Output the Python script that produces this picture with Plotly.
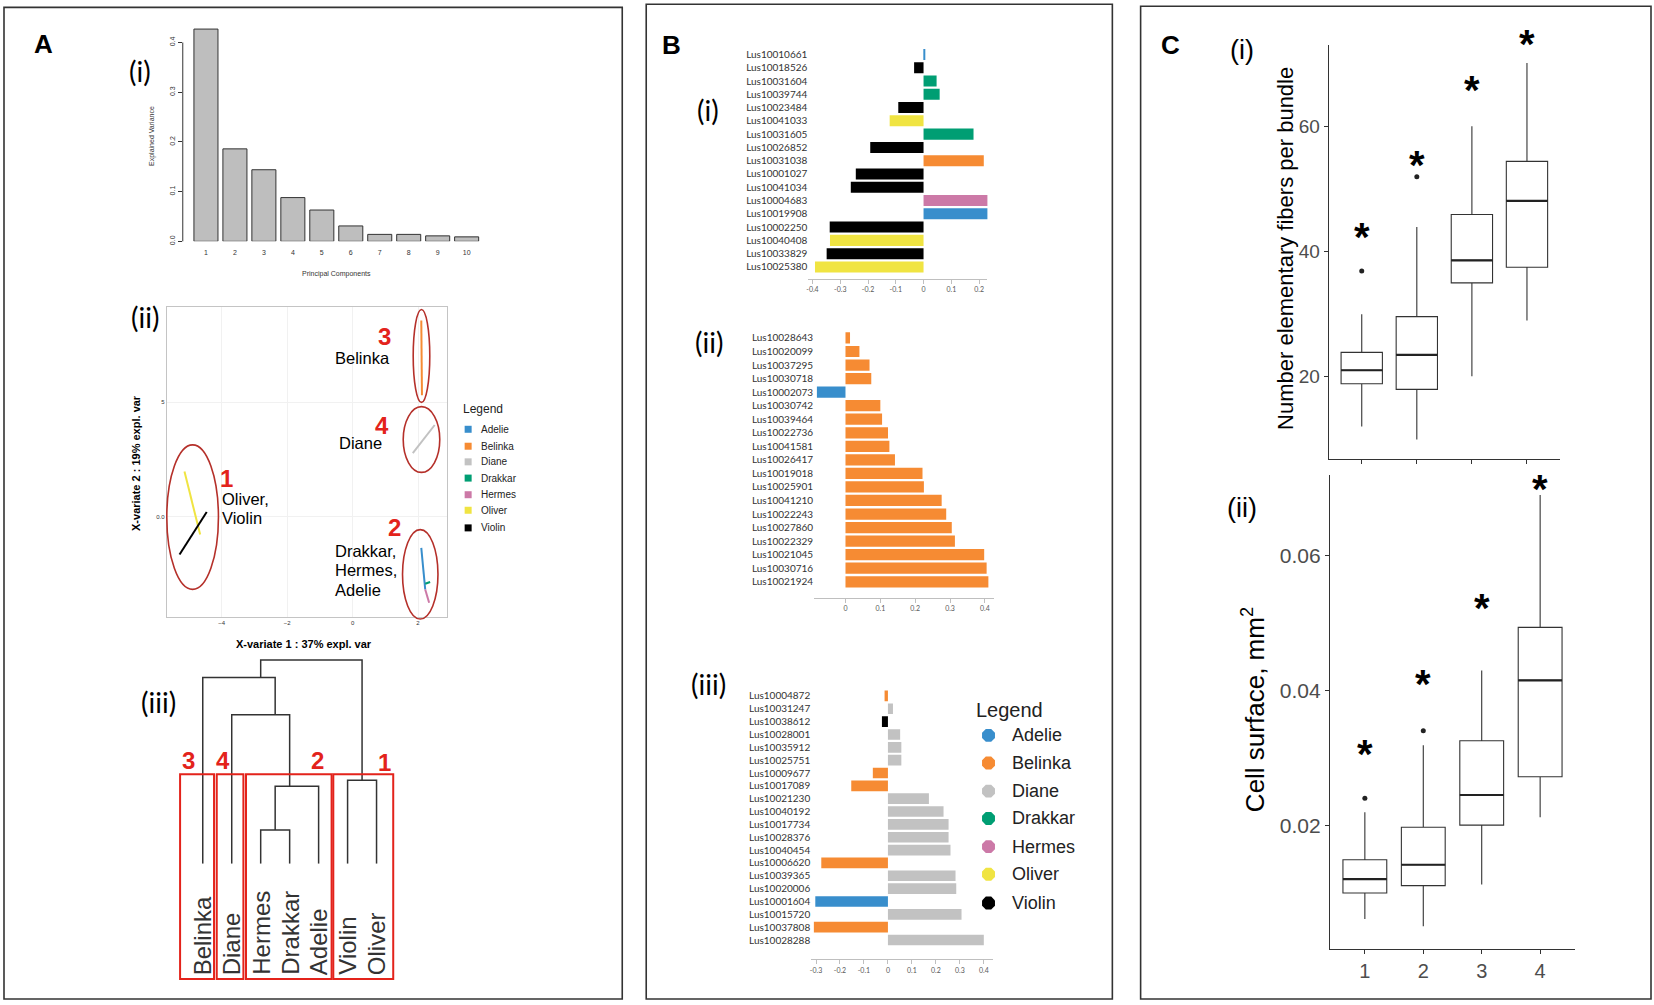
import plotly.graph_objects as go

W, H = 1654, 1005


def fx(px):
    return px / W


def fy(py):
    return 1 - py / H


ARIAL = "Liberation Sans, Arial, sans-serif"
CALIB = "Lato, Carlito, Calibri, sans-serif"

# ---------------- data ----------------
pc_labels = ["1", "2", "3", "4", "5", "6", "7", "8", "9", "10"]
pc_explained = [0.427, 0.186, 0.144, 0.088, 0.063, 0.031, 0.014, 0.014, 0.011, 0.009]
pc_ticks = [0.0, 0.1, 0.2, 0.3, 0.4]
pc_ticktext = ["0.0", "0.1", "0.2", "0.3", "0.4"]

cultivars = ["Adelie", "Belinka", "Diane", "Drakkar", "Hermes", "Oliver", "Violin"]
cultivar_colors = ["#388ECC", "#F68B33", "#C2C2C2", "#009E73", "#CC79A7", "#F0E442", "#000000"]
COL = dict(zip(cultivars, cultivar_colors))

traj_cultivar = ["Oliver", "Violin", "Belinka", "Diane", "Adelie", "Hermes", "Drakkar"]
traj_x = [[-5.14, -4.66], [-5.29, -4.46], [2.10, 2.12], [1.84, 2.51], [2.10, 2.22], [2.22, 2.34], [2.22, 2.37]]
traj_y = [[1.98, -0.77], [-1.64, 0.21], [8.57, 5.31], [2.78, 4.01], [-1.35, -3.17], [-3.17, -3.75], [-2.92, -2.84]]
xv1_ticks = [-4, -2, 0, 2]
xv2_ticks = [0, 5]
xv2_ticktext = ["0.0", "5"]

dendro_leaves = ["Belinka", "Diane", "Hermes", "Drakkar", "Adelie", "Violin", "Oliver"]
dendro_left = ["Hermes", "m0", "Violin", "Diane", "Belinka", "m4"]
dendro_right = ["Drakkar", "Adelie", "Oliver", "m1", "m3", "m2"]
dendro_height = [0.34, 0.78, 0.84, 1.50, 1.875, 2.05]
cluster_numbers = ["3", "4", "2", "1"]

b1_genes = ["Lus10010661", "Lus10018526", "Lus10031604", "Lus10039744", "Lus10023484", "Lus10041033",
            "Lus10031605", "Lus10026852", "Lus10031038", "Lus10001027", "Lus10041034", "Lus10004683",
            "Lus10019908", "Lus10002250", "Lus10040408", "Lus10033829", "Lus10025380"]
b1_loadings = [0.004, -0.034, 0.047, 0.058, -0.091, -0.122, 0.180, -0.192, 0.217, -0.244, -0.262,
               0.255, 0.255, -0.338, -0.337, -0.349, -0.391]
b1_cultivar = ["Adelie", "Violin", "Drakkar", "Drakkar", "Violin", "Oliver", "Drakkar", "Violin", "Belinka",
               "Violin", "Violin", "Hermes", "Adelie", "Violin", "Oliver", "Violin", "Oliver"]
b1_ticks = [-0.4, -0.3, -0.2, -0.1, 0, 0.1, 0.2]
b1_ticktext = ["-0.4", "-0.3", "-0.2", "-0.1", "0", "0.1", "0.2"]

b2_genes = ["Lus10028643", "Lus10020099", "Lus10037295", "Lus10030718", "Lus10002073", "Lus10030742",
            "Lus10039464", "Lus10022736", "Lus10041581", "Lus10026417", "Lus10019018", "Lus10025901",
            "Lus10041210", "Lus10022243", "Lus10027860", "Lus10022329", "Lus10021045", "Lus10030716",
            "Lus10021924"]
b2_loadings = [0.013, 0.040, 0.069, 0.074, -0.082, 0.100, 0.105, 0.122, 0.126, 0.142, 0.221, 0.225,
               0.276, 0.289, 0.305, 0.314, 0.398, 0.405, 0.410]
b2_cultivar = ["Belinka"] * 4 + ["Adelie"] + ["Belinka"] * 14
b2_ticks = [0, 0.1, 0.2, 0.3, 0.4]
b2_ticktext = ["0", "0.1", "0.2", "0.3", "0.4"]

b3_genes = ["Lus10004872", "Lus10031247", "Lus10038612", "Lus10028001", "Lus10035912", "Lus10025751",
            "Lus10009677", "Lus10017089", "Lus10021230", "Lus10040192", "Lus10017734", "Lus10028376",
            "Lus10040454", "Lus10006620", "Lus10039365", "Lus10020006", "Lus10001604", "Lus10015720",
            "Lus10037808", "Lus10028288"]
b3_loadings = [-0.014, 0.021, -0.025, 0.051, 0.056, 0.056, -0.063, -0.153, 0.171, 0.232, 0.253, 0.253,
               0.261, -0.278, 0.282, 0.285, -0.303, 0.307, -0.309, 0.400]
b3_cultivar = ["Belinka", "Diane", "Violin", "Diane", "Diane", "Diane", "Belinka", "Belinka", "Diane",
               "Diane", "Diane", "Diane", "Diane", "Belinka", "Diane", "Diane", "Adelie", "Diane",
               "Belinka", "Diane"]
b3_ticks = [-0.3, -0.2, -0.1, 0, 0.1, 0.2, 0.3, 0.4]
b3_ticktext = ["-0.3", "-0.2", "-0.1", "0", "0.1", "0.2", "0.3", "0.4"]

groups = [1, 2, 3, 4]
group_labels = ["1", "2", "3", "4"]
fib_lower = [12.05, 10.0, 20.1, 29.0]
fib_q1 = [18.9, 18.0, 35.0, 37.5]
fib_median = [21.05, 23.5, 38.6, 48.1]
fib_q3 = [23.9, 29.6, 45.9, 54.4]
fib_upper = [30.0, 43.9, 60.0, 70.1]
fib_outlier_group = [1, 2]
fib_outlier_value = [36.9, 51.95]
fib_star_y = [43.8, 55.2, 67.3, 74.6]
fib_ticks = [20, 40, 60]

cell_lower = [0.00621, 0.00514, 0.0113, 0.02127]
cell_q1 = [0.01005, 0.01114, 0.0201, 0.02728]
cell_median = [0.01212, 0.01424, 0.02457, 0.04155]
cell_q3 = [0.01498, 0.0198, 0.0326, 0.0494]
cell_upper = [0.0220, 0.03195, 0.0430, 0.0690]
cell_outlier_group = [1, 2]
cell_outlier_value = [0.0241, 0.0341]
cell_star_y = [0.0320, 0.0423, 0.0536, 0.0712]
cell_ticks = [0.02, 0.04, 0.06]
cell_ticktext = ["0.02", "0.04", "0.06"]

# ---------------- figure ----------------
fig = go.Figure()
ann = []
shapes = []


def label(x, y, s, size, color="#000000", bold=False, family=ARIAL, xanchor="center",
          yanchor="middle", angle=0):
    ann.append(dict(x=fx(x), y=fy(y), xref="paper", yref="paper",
                    text=f"<b>{s}</b>" if bold else s, showarrow=False,
                    font=dict(size=size, color=color, family=family),
                    xanchor=xanchor, yanchor=yanchor, textangle=angle))


def rect(x0, y0, x1, y1, color, width):
    shapes.append(dict(type="rect", xref="paper", yref="paper", x0=fx(x0), x1=fx(x1),
                       y0=fy(y0), y1=fy(y1), line=dict(color=color, width=width)))


def ellipse(x0, y0, x1, y1, color, width):
    shapes.append(dict(type="circle", xref="paper", yref="paper", x0=fx(x0), x1=fx(x1),
                       y0=fy(y0), y1=fy(y1), line=dict(color=color, width=width)))


def to_paper(v, dom, rng):
    return dom[0] + (v - rng[0]) / (rng[1] - rng[0]) * (dom[1] - dom[0])


# outer panel frames
rect(2, 7.4, 621, 1003, "#333333", 1.6)
rect(645, 4.2, 1111.7, 1003, "#333333", 1.6)
rect(1140, 6.3, 1651, 1003, "#333333", 1.6)
label(42, 44, "A", 26, bold=True)
label(670, 45, "B", 26, bold=True)
label(1170, 45, "C", 26, bold=True)

# ---- A(i) scree plot ----
a1_xdom = [fx(181.0), fx(482.6)]
a1_ydom = [fy(242.3), fy(22.7)]
a1_range = [0, 0.44]
fig.add_trace(go.Bar(x=list(range(1, len(pc_explained) + 1)), y=pc_explained, width=0.83,
                     marker=dict(color="#BEBEBE", line=dict(color="#333333", width=1)),
                     xaxis="x", yaxis="y", showlegend=False))
shapes.append(dict(type="line", xref="paper", yref="paper", x0=a1_xdom[0], x1=a1_xdom[0],
                   y0=to_paper(pc_ticks[0], a1_ydom, a1_range),
                   y1=to_paper(pc_ticks[-1], a1_ydom, a1_range),
                   line=dict(color="#333333", width=1)))
label(138.3, 71.7, "(i)", 28, family=CALIB)
label(335, 275, "Principal Components", 7, color="#333333")
label(150, 136.7, "Explained Variance", 7, color="#333333", angle=-90)

# ---- A(ii) sPLS-DA sample plot ----
for c, xs, ys in zip(traj_cultivar, traj_x, traj_y):
    fig.add_trace(go.Scatter(x=xs, y=ys, mode="lines", line=dict(color=COL[c], width=2),
                             xaxis="x2", yaxis="y2", showlegend=False))
label(143.3, 318.3, "(ii)", 28, family=CALIB)
label(302, 647, "X-variate 1 : 37% expl. var", 11, bold=True)
label(134, 465, "X-variate 2 : 19% expl. var", 11, bold=True, angle=-90)
ELL = "#B5302A"
ellipse(165, 446.7, 216.7, 591.7, ELL, 1.6)
ellipse(411.7, 310.7, 428.3, 404, ELL, 1.6)
ellipse(401.7, 408.3, 438.3, 474.3, ELL, 1.6)
ellipse(401, 531.7, 436.5, 621.5, ELL, 1.6)
RED = "#E3231B"
label(225, 480.5, "1", 24, color=RED, bold=True)
label(382.7, 338.3, "3", 24, color=RED, bold=True)
label(380.7, 426.7, "4", 24, color=RED, bold=True)
label(393.3, 530, "2", 24, color=RED, bold=True)
label(361.2, 359.3, "Belinka", 16.5)
label(358.8, 445, "Diane", 16.5)
label(218.3, 501, "Oliver,", 16.5, xanchor="left")
label(218.3, 520.3, "Violin", 16.5, xanchor="left")
label(331.7, 553.3, "Drakkar,", 16.5, xanchor="left")
label(331.7, 572.7, "Hermes,", 16.5, xanchor="left")
label(331.7, 592.3, "Adelie", 16.5, xanchor="left")
# legend (A)
label(459.3, 411, "Legend", 12, color="#222222", xanchor="left")
a_leg_y = [431, 448, 463.7, 480, 496.7, 512.3, 530]
fig.add_trace(go.Scatter(x=[466.7] * len(cultivars), y=a_leg_y, mode="markers",
                         marker=dict(symbol="square", size=7, color=cultivar_colors),
                         xaxis="x9", yaxis="y9", showlegend=False))
for c, yy in zip(cultivars, a_leg_y):
    label(478, yy, c, 10, color="#222222", xanchor="left")

# ---- A(iii) dendrogram ----
node = {leaf: (i + 1, 0.0, i + 1, i + 1) for i, leaf in enumerate(dendro_leaves)}
dx, dy = [], []
for k, (a, b, h) in enumerate(zip(dendro_left, dendro_right, dendro_height)):
    xa, ha, la, ra = node[a]
    xb, hb, lb, rb = node[b]
    dx += [xa, xa, xb, xb, None]
    dy += [ha, h, h, hb, None]
    lo, hi = min(la, lb), max(ra, rb)
    node[f"m{k}"] = ((lo + hi) / 2, h, lo, hi)
fig.add_trace(go.Scatter(x=dx, y=dy, mode="lines", line=dict(color="#333333", width=1.5),
                         xaxis="x3", yaxis="y3", showlegend=False))
for i, leaf in enumerate(dendro_leaves):
    ann.append(dict(x=i + 1, y=fy(981), xref="x3", yref="paper", text=leaf, showarrow=False,
                    textangle=-90, xanchor="center", yanchor="bottom",
                    font=dict(size=24, color="#333333", family=ARIAL)))
label(156.7, 705, "(iii)", 28, family=CALIB)
box_ext = [(178.3, 212.3), (215, 241.7), (244.3, 330), (331.7, 391.7)]
num_pos = [(186.7, 764), (221.7, 764), (315.7, 764), (382.7, 766)]
for (x0, x1), (nx, ny), num in zip(box_ext, num_pos, cluster_numbers):
    rect(x0, 777.3, x1, 983, RED, 2)
    label(nx, ny, num, 24, color=RED, bold=True)

# ---- B loadings ----
for genes, vals, cults, ax in [(b1_genes, b1_loadings, b1_cultivar, "4"),
                               (b2_genes, b2_loadings, b2_cultivar, "5"),
                               (b3_genes, b3_loadings, b3_cultivar, "6")]:
    fig.add_trace(go.Bar(y=genes, x=vals, orientation="h",
                         marker=dict(color=[COL[c] for c in cults], line=dict(width=0)),
                         xaxis="x" + ax, yaxis="y" + ax, showlegend=False))
label(706.7, 110, "(i)", 28, family=CALIB)
label(708.3, 343.3, "(ii)", 28, family=CALIB)
label(707.3, 686.7, "(iii)", 28, family=CALIB)
# legend (B)
label(973.3, 713.3, "Legend", 20, color="#222222", xanchor="left")
b_leg_y = [738.3, 766, 794.3, 821.7, 850, 877.7, 906.7]
fig.add_trace(go.Scatter(x=[987.7] * len(cultivars), y=b_leg_y, mode="markers",
                         marker=dict(symbol="octagon", size=14, color=cultivar_colors),
                         xaxis="x9", yaxis="y9", showlegend=False))
for c, yy in zip(cultivars, b_leg_y):
    label(1009, yy, c, 18, color="#222222", xanchor="left")

# ---- C boxplots ----
c1_xdom, c1_ydom, c1_yrange = [fx(1328.3), fx(1559.9)], [fy(460.7), fy(45)], [6.9, 73]
c2_xdom, c2_ydom, c2_yrange = [fx(1329.4), fx(1575.1)], [fy(952.5), fy(476.7)], [0.0018, 0.072]
c_xrange = [0.4, 4.6]
for ax, lo, q1, med, q3, up, og, ov in [
        ("7", fib_lower, fib_q1, fib_median, fib_q3, fib_upper, fib_outlier_group, fib_outlier_value),
        ("8", cell_lower, cell_q1, cell_median, cell_q3, cell_upper, cell_outlier_group, cell_outlier_value)]:
    fig.add_trace(go.Box(x=groups, q1=q1, median=med, q3=q3, lowerfence=lo, upperfence=up,
                         width=0.75, whiskerwidth=0, boxpoints=False, fillcolor="white",
                         line=dict(color="#333333", width=1.1),
                         xaxis="x" + ax, yaxis="y" + ax, showlegend=False))
    mx, my = [], []
    for g, m in zip(groups, med):
        mx += [g - 0.375, g + 0.375, None]
        my += [m, m, None]
    fig.add_trace(go.Scatter(x=mx, y=my, mode="lines", line=dict(color="#222222", width=2.2),
                             xaxis="x" + ax, yaxis="y" + ax, showlegend=False))
    fig.add_trace(go.Scatter(x=og, y=ov, mode="markers", marker=dict(color="#222222", size=5),
                             xaxis="x" + ax, yaxis="y" + ax, showlegend=False))
for sy, xdom, ydom, yrng in [(fib_star_y, c1_xdom, c1_ydom, c1_yrange),
                             (cell_star_y, c2_xdom, c2_ydom, c2_yrange)]:
    for g, s in zip(groups, sy):
        ann.append(dict(x=to_paper(g, xdom, c_xrange), y=to_paper(s, ydom, yrng),
                        xref="paper", yref="paper", text="<b>*</b>", showarrow=False,
                        xanchor="center", yanchor="middle",
                        yshift=-9, font=dict(size=40, color="#000000", family=ARIAL)))
label(1241.7, 50, "(i)", 27)
label(1241.7, 510, "(ii)", 27)
label(1285, 249.5, "Number elementary fibers per bundle", 22, angle=-90)
label(1253, 712.5, "Cell surface, mm<sup>2</sup>", 26, angle=-90)

# ---------------- layout ----------------
hidden = dict(visible=False, showgrid=False, zeroline=False, fixedrange=True)


def bar_x(dom, rng, ticks, text, ax):
    return dict(domain=dom, range=rng, tickvals=ticks, ticktext=text, showline=True,
                linecolor="#BFBFBF", linewidth=1, ticks="outside", ticklen=4, tickcolor="#BFBFBF",
                tickfont=dict(size=7, color="#595959", family=CALIB), showgrid=False,
                zeroline=False, anchor="y" + ax)


def bar_y(dom, n, pad, ax):
    return dict(domain=dom, type="category", range=[n - 0.5 + pad, -0.5], showline=False,
                showgrid=False, zeroline=False, ticks="",
                tickfont=dict(size=10, color="#333333", family=CALIB), anchor="x" + ax)


layout = dict(
    width=W, height=H, margin=dict(l=0, r=0, t=0, b=0),
    paper_bgcolor="white", plot_bgcolor="rgba(0,0,0,0)", showlegend=False,
    bargap=0.17, font=dict(family=ARIAL, color="#333333"),
    xaxis=dict(domain=a1_xdom, range=[0.2, 10.6], tickvals=list(range(1, 11)),
               ticktext=pc_labels, ticks="", showline=False, showgrid=False, zeroline=False,
               tickfont=dict(size=7, color="#333333"), ticklabelstandoff=6, anchor="y"),
    yaxis=dict(domain=a1_ydom, range=a1_range, tickvals=pc_ticks,
               ticktext=pc_ticktext, ticks="outside", ticklen=4, tickcolor="#333333",
               tickangle=-90, showline=False, showgrid=False, zeroline=False,
               tickfont=dict(size=7, color="#333333"), anchor="x"),
    xaxis2=dict(domain=[fx(165), fx(446)], range=[-5.68, 2.9], tickvals=xv1_ticks, showline=True,
                mirror=True, linecolor="#C4C4C4", linewidth=1, showgrid=True, gridcolor="#F1F1F1",
                zeroline=False, ticks="", tickfont=dict(size=6, color="#333333"), anchor="y2"),
    yaxis2=dict(domain=[fy(619), fy(308)], range=[-4.35, 9.17], tickvals=xv2_ticks,
                ticktext=xv2_ticktext, showline=True, mirror=True, linecolor="#C4C4C4", linewidth=1,
                showgrid=True, gridcolor="#F1F1F1", zeroline=False, ticks="",
                tickfont=dict(size=6, color="#333333"), anchor="x2"),
    xaxis3=dict(domain=[fx(186.5), fx(389.5)], range=[0.5, 7.5], anchor="y3", **hidden),
    yaxis3=dict(domain=[fy(867.3), fy(657.7)], range=[0, 2.1], anchor="x3", **hidden),
    xaxis4=bar_x([fx(807.3), fx(986.6)], [-0.415, 0.23], b1_ticks, b1_ticktext, "4"),
    yaxis4=bar_y([fy(280), fy(48)], len(b1_genes), 0.4, "4"),
    xaxis5=bar_x([fx(813.1), fx(992.8)], [-0.09, 0.425], b2_ticks, b2_ticktext, "5"),
    yaxis5=bar_y([fy(600), fy(332.5)], len(b2_genes), 0.67, "5"),
    xaxis6=bar_x([fx(810.2), fx(992.6)], [-0.32, 0.44], b3_ticks, b3_ticktext, "6"),
    yaxis6=bar_y([fy(963), fy(692.25)], len(b3_genes), 0.99, "6"),
    xaxis7=dict(domain=c1_xdom, range=c_xrange, tickvals=groups,
                showticklabels=False, showline=True, linecolor="#333333", linewidth=1,
                ticks="outside", ticklen=4, tickcolor="#333333", showgrid=False, zeroline=False,
                anchor="y7"),
    yaxis7=dict(domain=c1_ydom, range=c1_yrange, tickvals=fib_ticks, showline=True,
                linecolor="#333333", linewidth=1, ticks="outside", ticklen=4, tickcolor="#333333",
                tickfont=dict(size=19, color="#4D4D4D"), showgrid=False, zeroline=False,
                anchor="x7"),
    xaxis8=dict(domain=c2_xdom, range=c_xrange, tickvals=groups,
                ticktext=group_labels, showline=True, linecolor="#333333", linewidth=1,
                ticks="outside", ticklen=4, tickcolor="#333333",
                tickfont=dict(size=20, color="#4D4D4D"), showgrid=False, zeroline=False,
                anchor="y8"),
    yaxis8=dict(domain=c2_ydom, range=c2_yrange, tickvals=cell_ticks,
                ticktext=cell_ticktext, showline=True, linecolor="#333333", linewidth=1,
                ticks="outside", ticklen=4, tickcolor="#333333",
                tickfont=dict(size=21, color="#4D4D4D"), showgrid=False, zeroline=False,
                anchor="x8"),
    xaxis9=dict(domain=[0, 1], range=[0, W], anchor="y9", **hidden),
    yaxis9=dict(domain=[0, 1], range=[H, 0], anchor="x9", **hidden),
    annotations=ann, shapes=shapes,
)

fig.update_layout(**layout)
fig.write_html("out.html", config={"displayModeBar": False},
               post_script="document.body.style.margin='0';document.body.style.overflow='hidden';")
